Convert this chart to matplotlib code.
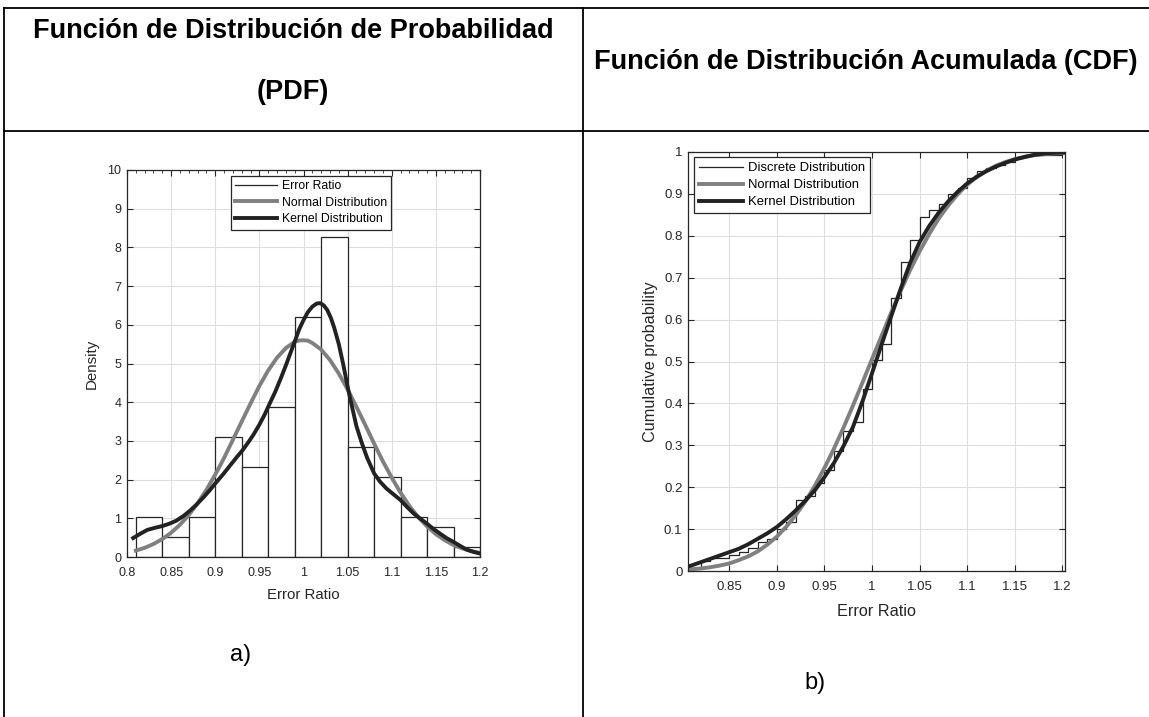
import numpy as np
import matplotlib
matplotlib.use("Agg")
import matplotlib.pyplot as plt
from matplotlib.lines import Line2D

plt.rcParams['font.family'] = ['Liberation Sans', 'DejaVu Sans']

# error ratio sample (values rounded to 0.01) and how many times each appears
ratio_values = [0.81, 0.82, 0.83, 0.84, 0.85, 0.86, 0.87, 0.88, 0.89, 0.90,
                0.91, 0.92, 0.93, 0.94, 0.95, 0.96, 0.97, 0.98, 0.99, 1.00,
                1.01, 1.02, 1.03, 1.04, 1.05, 1.06, 1.07, 1.08, 1.09, 1.10,
                1.11, 1.12, 1.13, 1.14, 1.15, 1.16, 1.17, 1.18, 1.19, 1.20]
ratio_counts = [1, 2, 1, 0, 1, 1, 1, 2, 1, 3,
                2, 7, 1, 4, 4, 6, 6, 3, 10, 9,
                5, 14, 11, 7, 7, 2, 2, 3, 2, 3,
                2, 1, 1, 1, 1, 1, 0, 0, 0, 1]
bin_edges = [0.81, 0.84, 0.87, 0.90, 0.93, 0.96, 0.99, 1.02, 1.05, 1.08, 1.11, 1.14, 1.17, 1.20]

# fitted pdf curves
normal_x = [0.81, 0.82, 0.83, 0.84, 0.85, 0.86, 0.87, 0.88, 0.89, 0.90, 0.91, 0.92,
            0.93, 0.94, 0.95, 0.96, 0.97, 0.98, 0.99, 0.995, 1.00, 1.005, 1.01, 1.02,
            1.03, 1.04, 1.05, 1.06, 1.07, 1.08, 1.09, 1.10, 1.11, 1.12, 1.13, 1.14,
            1.15, 1.16, 1.17, 1.18, 1.19, 1.20]
normal_pdf = [0.165, 0.237, 0.335, 0.463, 0.627, 0.833, 1.085, 1.387, 1.735, 2.13, 2.56, 3.03,
              3.50, 3.97, 4.42, 4.82, 5.15, 5.40, 5.56, 5.595, 5.60, 5.59, 5.53, 5.36,
              5.09, 4.74, 4.33, 3.88, 3.41, 2.93, 2.47, 2.05, 1.66, 1.32, 1.03, 0.79,
              0.59, 0.435, 0.31, 0.221, 0.153, 0.104]
kernel_x = [0.807, 0.815, 0.823, 0.831, 0.840, 0.848, 0.856, 0.864, 0.871, 0.879, 0.887, 0.894,
            0.900, 0.909, 0.917, 0.924, 0.931, 0.937, 0.943, 0.950, 0.956, 0.962, 0.968, 0.974,
            0.980, 0.986, 0.990, 0.995, 1.000, 1.005, 1.010, 1.015, 1.019, 1.023, 1.027, 1.031,
            1.035, 1.040, 1.045, 1.050, 1.055, 1.060, 1.066, 1.072, 1.080, 1.087, 1.094, 1.102,
            1.110, 1.117, 1.125, 1.133, 1.140, 1.147, 1.155, 1.162, 1.170, 1.178, 1.185, 1.193,
            1.200]
kernel_pdf = [0.49, 0.60, 0.70, 0.75, 0.80, 0.86, 0.94, 1.06, 1.19, 1.36, 1.55, 1.73,
              1.90, 2.14, 2.37, 2.57, 2.76, 2.95, 3.15, 3.42, 3.68, 3.98, 4.27, 4.60,
              4.95, 5.32, 5.56, 5.88, 6.12, 6.33, 6.47, 6.55, 6.56, 6.50, 6.38, 6.18,
              5.91, 5.50, 4.98, 4.40, 3.88, 3.38, 2.95, 2.57, 2.16, 1.94, 1.77, 1.62,
              1.47, 1.30, 1.12, 0.98, 0.86, 0.73, 0.60, 0.49, 0.39, 0.28, 0.19, 0.13,
              0.09]

# fitted cdf curves
cdf_x = [0.807, 0.81, 0.82, 0.83, 0.84, 0.85, 0.86, 0.87, 0.88, 0.89, 0.90, 0.91,
         0.92, 0.93, 0.94, 0.95, 0.96, 0.97, 0.98, 0.99, 1.00, 1.01, 1.02, 1.03,
         1.04, 1.05, 1.06, 1.07, 1.08, 1.09, 1.10, 1.11, 1.12, 1.13, 1.14, 1.15,
         1.16, 1.17, 1.18, 1.19, 1.203]
normal_cdf = [0.0035, 0.004, 0.006, 0.009, 0.013, 0.018, 0.026, 0.035, 0.047, 0.063, 0.082, 0.106,
              0.134, 0.166, 0.204, 0.246, 0.292, 0.342, 0.395, 0.450, 0.506, 0.561, 0.616, 0.668,
              0.718, 0.763, 0.804, 0.841, 0.872, 0.899, 0.922, 0.940, 0.955, 0.967, 0.976, 0.983,
              0.988, 0.992, 0.9945, 0.9965, 0.998]
kernel_cdf = [0.011, 0.013, 0.021, 0.029, 0.037, 0.045, 0.053, 0.064, 0.077, 0.090, 0.105, 0.124,
              0.145, 0.168, 0.193, 0.224, 0.258, 0.298, 0.344, 0.405, 0.472, 0.540, 0.607, 0.673,
              0.735, 0.785, 0.823, 0.855, 0.882, 0.905, 0.925, 0.941, 0.954, 0.965, 0.974, 0.982,
              0.988, 0.993, 0.996, 0.998, 0.999]

samples = np.repeat(ratio_values, ratio_counts)

DARK = '#262626'
GRAY = '#808080'
W, H = 1149, 717

fig = plt.figure(figsize=(W / 100, H / 100), dpi=100)

# table frame and headers
bg = fig.add_axes([0, 0, 1, 1])
bg.set_xlim(0, W)
bg.set_ylim(H, 0)
bg.axis('off')
for xs, ys in [([4, W], [8, 8]), ([4, W], [131, 131]), ([4, 4], [8, H]), ([583, 583], [8, H])]:
    bg.add_line(Line2D(xs, ys, color='black', lw=1.3))
bg.text(293, 31, 'Función de Distribución de Probabilidad', ha='center', va='center',
        fontsize=19.5, fontweight='bold')
bg.text(293, 92, '(PDF)', ha='center', va='center', fontsize=19.5, fontweight='bold')
bg.text(866, 62, 'Función de Distribución Acumulada (CDF)', ha='center', va='center',
        fontsize=19.5, fontweight='bold')
bg.text(241, 655, 'a)', ha='center', va='center', fontsize=17)
bg.text(815, 683, 'b)', ha='center', va='center', fontsize=17)


def style_axes(ax, fs):
    ax.grid(True, color='#dedede', lw=0.8)
    ax.set_axisbelow(True)
    for s in ax.spines.values():
        s.set_color(DARK)
        s.set_linewidth(0.9)
    ax.tick_params(direction='in', top=True, right=True, length=4, width=0.8,
                   color=DARK, labelcolor=DARK, labelsize=fs)
    ax.tick_params(axis='x', pad=7)
    ax.tick_params(axis='y', pad=4)


def add_legend(ax, labels, anchor, fs):
    handles = [Line2D([], [], color=DARK, lw=0.9), Line2D([], [], color=GRAY, lw=2.8),
               Line2D([], [], color='#222222', lw=2.8)]
    leg = ax.legend(handles, labels, loc='upper left', bbox_to_anchor=anchor, fontsize=fs,
                    fancybox=False, framealpha=1, edgecolor=DARK, handlelength=3.4,
                    borderpad=0.35, labelspacing=0.38, handletextpad=0.4, borderaxespad=0)
    leg.get_frame().set_linewidth(0.9)


# a) PDF
ax1 = fig.add_axes([127 / W, 1 - 557 / H, 353 / W, 387 / H])
ax1.hist(samples, bins=bin_edges, density=True, facecolor='white', edgecolor=DARK, lw=0.9)
ax1.plot(normal_x, normal_pdf, color=GRAY, lw=2.8)
ax1.plot(kernel_x, kernel_pdf, color='#222222', lw=2.8)
ax1.set_xlim(0.8, 1.2)
ax1.set_ylim(0, 10)
ax1.set_xticks(np.round(np.arange(0.8, 1.201, 0.05), 2))
ax1.set_xticks(np.round(np.arange(0.8, 1.201, 0.01), 2), minor=True)
ax1.set_yticks(range(0, 11))
ax1.xaxis.set_major_formatter(matplotlib.ticker.FormatStrFormatter('%g'))
style_axes(ax1, 9)
ax1.tick_params(which='minor', direction='in', top=True, length=2, width=0.6, color=DARK)
ax1.grid(False, which='minor')
ax1.set_xlabel('Error Ratio', fontsize=10.8, color=DARK, labelpad=7)
ax1.set_ylabel('Density', fontsize=10.8, color=DARK, labelpad=6)
add_legend(ax1, ['Error Ratio', 'Normal Distribution', 'Kernel Distribution'], (0.294, 0.985), 8.8)

# b) CDF
ax2 = fig.add_axes([688 / W, 1 - 571 / H, 377 / W, 419 / H])
ax2.ecdf(samples, color=DARK, lw=0.9)
ax2.plot(cdf_x, normal_cdf, color=GRAY, lw=2.8)
ax2.plot(cdf_x, kernel_cdf, color='#222222', lw=2.8)
ax2.set_xlim(0.8066, 1.2028)
ax2.set_ylim(0, 1)
ax2.set_xticks(np.round(np.arange(0.85, 1.201, 0.05), 2))
ax2.set_yticks(np.round(np.arange(0, 1.01, 0.1), 1))
ax2.xaxis.set_major_formatter(matplotlib.ticker.FormatStrFormatter('%g'))
ax2.yaxis.set_major_formatter(matplotlib.ticker.FormatStrFormatter('%g'))
style_axes(ax2, 9.5)
ax2.set_xlabel('Error Ratio', fontsize=11.7, color=DARK, labelpad=8)
ax2.set_ylabel('Cumulative probability', fontsize=11.7, color=DARK, labelpad=4)
add_legend(ax2, ['Discrete Distribution', 'Normal Distribution', 'Kernel Distribution'],
           (0.016, 0.987), 9.4)

fig.savefig('out.png', dpi=100)
